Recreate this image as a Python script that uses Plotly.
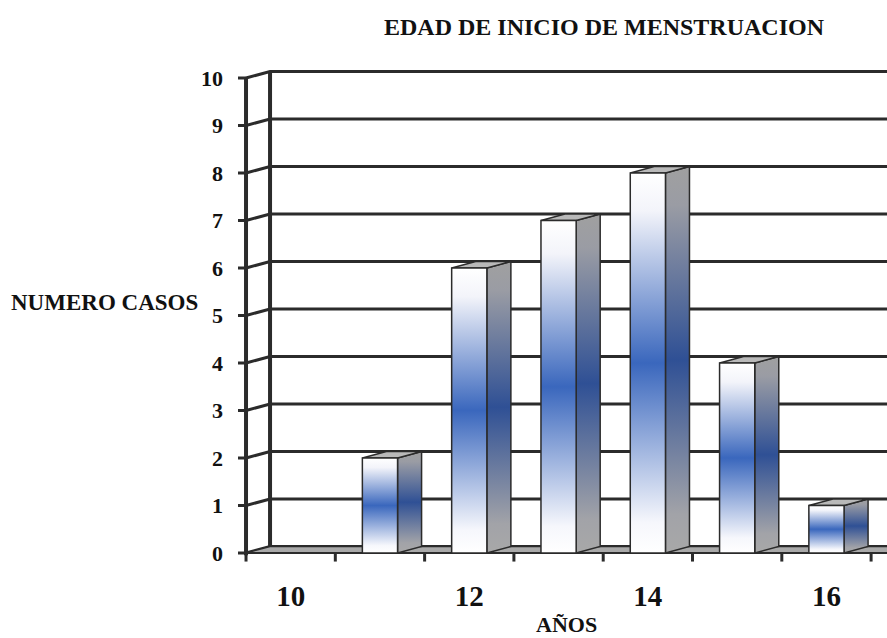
import plotly.graph_objects as go

# ---- data ----
years = [10, 11, 12, 13, 14, 15, 16]
casos = [0, 2, 6, 7, 8, 4, 1]
y_ticks = list(range(0, 11))
x_tick_vals = [10, 12, 14, 16]
x_tick_labels = ["10", "12", "14", "16"]
title_text = "EDAD DE INICIO DE MENSTRUACION"
x_title = "AÑOS"
y_title = "NUMERO CASOS"

# ---- style / geometry ----
FONT = "Liberation Serif"
DARK = "#2b2b2b"
half_w = 0.197          # half width of bar front face (x units)
ddx = 0.269            # 3D depth offset in x units
ddy = 0.137            # 3D depth offset in y units
x_lo, x_hi = 9.343, 16.678
y_lo, y_hi = -0.358, 10.379
x0 = years[0] - 0.5    # front axis position

fig = go.Figure()

# back wall grid lines + slanted connectors
gx, gy = [], []
for k in y_ticks:
    gx += [x0, x0 + ddx, x_hi + 1, None]
    gy += [k, k + ddy, k + ddy, None]
fig.add_trace(go.Scatter(x=gx, y=gy, mode="lines",
                         line=dict(color=DARK, width=3), hoverinfo="skip"))

# back wall vertical line
fig.add_trace(go.Scatter(x=[x0 + ddx, x0 + ddx], y=[ddy, y_ticks[-1] + ddy], mode="lines",
                         line=dict(color=DARK, width=4), hoverinfo="skip"))

# floor
fig.add_trace(go.Scatter(x=[x0, x_hi + 1, x_hi + 1, x0 + ddx, x0],
                         y=[0, 0, ddy, ddy, 0], mode="lines", fill="toself",
                         fillcolor="#a9a9a9", line=dict(color=DARK, width=1.5),
                         hoverinfo="skip"))

# x tick marks
tx, ty = [], []
for i in range(len(years) + 1):
    tx += [x0 + i, x0 + i, None]
    ty += [0, -0.18, None]
fig.add_trace(go.Scatter(x=tx, y=ty, mode="lines",
                         line=dict(color=DARK, width=3), hoverinfo="skip"))

# y tick marks
yx, yy = [], []
for k in y_ticks:
    yx += [x0 - 0.09, x0, None]
    yy += [k, k, None]
fig.add_trace(go.Scatter(x=yx, y=yy, mode="lines",
                         line=dict(color=DARK, width=3), hoverinfo="skip"))

# front axis line
fig.add_trace(go.Scatter(x=[x0, x0], y=[-0.05, y_ticks[-1]], mode="lines",
                         line=dict(color=DARK, width=4), hoverinfo="skip"))

# front floor edge
fig.add_trace(go.Scatter(x=[x0, x_hi + 1], y=[0, 0], mode="lines",
                         line=dict(color=DARK, width=2), hoverinfo="skip"))

front_scale = [[0, "#ffffff"], [0.08, "#f6f7fc"], [0.5, "#3a67bd"],
               [0.9, "#f3f4fa"], [1, "#ffffff"]]
side_scale = [[0, "#a8a8a8"], [0.1, "#a2a3a8"], [0.5, "#2f5095"],
              [0.9, "#9a9ca4"], [1, "#a0a0a0"]]

for yr, v in zip(years, casos):
    if v <= 0:
        continue
    L, R = yr - half_w, yr + half_w
    # side face
    fig.add_trace(go.Scatter(
        x=[R, R + ddx, R + ddx, R, R], y=[0, ddy, v + ddy, v, 0],
        mode="lines", fill="toself",
        fillgradient=dict(type="vertical", colorscale=side_scale),
        line=dict(color=DARK, width=1.5), hoverinfo="skip"))
    # top face
    fig.add_trace(go.Scatter(
        x=[L, R, R + ddx, L + ddx, L], y=[v, v, v + ddy, v + ddy, v],
        mode="lines", fill="toself", fillcolor="#b9b9b9",
        line=dict(color=DARK, width=1.5), hoverinfo="skip"))
    # front face
    fig.add_trace(go.Scatter(
        x=[L, R, R, L, L], y=[0, 0, v, v, 0],
        mode="lines", fill="toself",
        fillgradient=dict(type="vertical", colorscale=front_scale),
        line=dict(color=DARK, width=1.5), hoverinfo="skip"))

fig.update_layout(
    width=887, height=638,
    margin=dict(l=232, r=0, t=60, b=68),
    paper_bgcolor="white", plot_bgcolor="white",
    showlegend=False, hovermode=False,
    font=dict(family=FONT, color="#111111"),
    xaxis=dict(range=[x_lo, x_hi], showgrid=False, zeroline=False, showline=False,
               tickvals=x_tick_vals, ticktext=x_tick_labels, ticks="",
               ticklabelstandoff=6, automargin=False,
               tickfont=dict(family=FONT, size=29, weight="bold", color="#111")),
    yaxis=dict(range=[y_lo, y_hi], showgrid=False, zeroline=False, showline=False,
               tickvals=y_ticks, ticktext=[str(t) for t in y_ticks], ticks="",
               ticklabelstandoff=8, automargin=False,
               tickfont=dict(family=FONT, size=22, weight="bold", color="#111")),
    title=dict(text=title_text, x=604 / 887, y=1 - 27 / 638,
               xanchor="center", yanchor="middle",
               font=dict(family=FONT, size=24, weight="bold", color="#111")),
    annotations=[
        dict(text=x_title, xref="paper", yref="paper", x=(566 - 232) / 655,
             y=(570 - 624) / 510, xanchor="center", yanchor="middle", showarrow=False,
             font=dict(family=FONT, size=22, weight="bold", color="#111")),
        dict(text=y_title, xref="paper", yref="paper", x=(105 - 232) / 655,
             y=(570 - 302) / 510, xanchor="center", yanchor="middle", showarrow=False,
             font=dict(family=FONT, size=23, weight="bold", color="#111")),
    ],
)

fig.write_html("out.html", config={"displayModeBar": False},
               post_script="document.body.style.margin='0';document.body.style.overflow='hidden';")
